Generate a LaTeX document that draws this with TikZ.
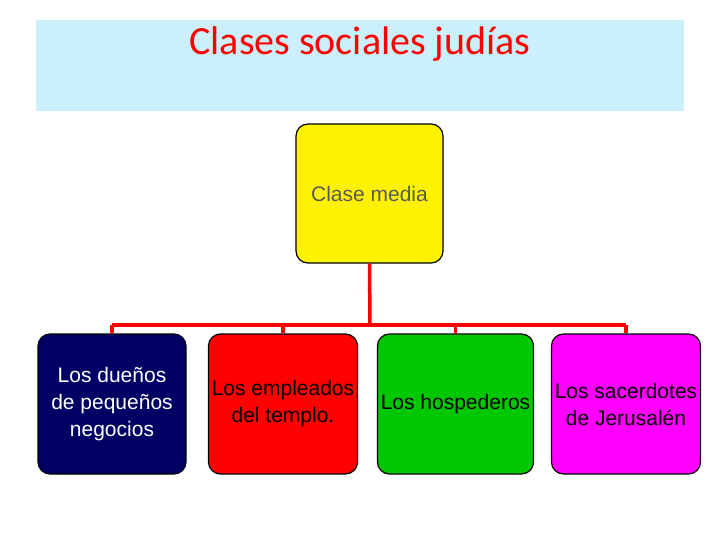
\documentclass[tikz,border=0pt]{standalone}
\usepackage{fontspec}
\setmainfont{Liberation Sans}
\newfontfamily\titlefont{Carlito}
\begin{document}
\begin{tikzpicture}[x=1pt,y=-1pt,
  box/.style={draw=black,line width=1.2pt,rounded corners=12pt,minimum width=148pt,minimum height=140pt,align=center,font=\fontsize{21}{27}\selectfont},
  link/.style={draw=red,line width=3.5pt}]
\useasboundingbox (0,0) rectangle (720,540);
\fill[white] (0,0) rectangle (720,540);
\fill[cyan!20] (36,20) rectangle (684,111);
\node (title) at (360,44) {\titlefont\fontsize{40}{44}\selectfont\color{red}Clases sociales judías};
\node[box,fill=yellow,minimum width=147pt,minimum height=139pt,text=black!65] (mid) at (369.5,193.5) {Clase media};
\node[box,fill={rgb,255:red,0;green,0;blue,100},text=white] (a) at (112,404) {Los dueños\\de pequeños\\negocios};
\node[box,fill=red] (b) at (283,404) {Los empleados\\del templo.};
\node[box,fill={rgb,255:red,0;green,200;blue,0}] (c) at (455.5,404) {Los hospederos};
\node[box,fill={rgb,255:red,255;green,0;blue,255}] (d) at (626,404) {Los sacerdotes\\de Jerusalén};
\coordinate (j) at (370,325);
\draw[link] (mid.south) -- (j);
\draw[link] (a.north |- j) -- (d.north |- j);
\foreach \n in {a,b,c,d}{\draw[link] (\n.north |- j) -- (\n.north);}
\end{tikzpicture}
\end{document}
